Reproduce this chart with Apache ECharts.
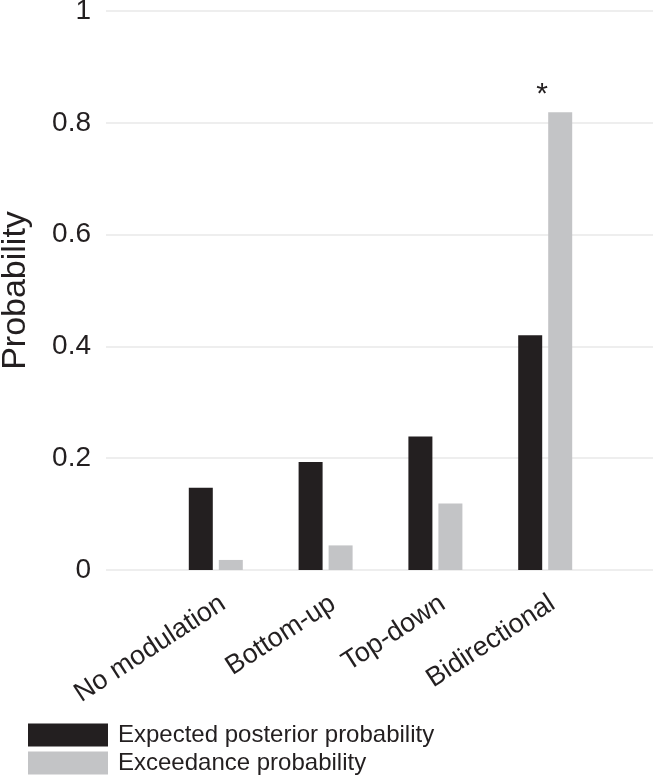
<!DOCTYPE html>
<html>
<head>
<meta charset="utf-8">
<script src="https://cdn.jsdelivr.net/npm/echarts@6/dist/echarts.min.js"></script>
<style>
html,body{margin:0;padding:0;background:#fff;}
#chart{width:653px;height:776px;}
</style>
</head>
<body>
<div id="chart"></div>
<script>
const categories = ['No modulation', 'Bottom-up', 'Top-down', 'Bidirectional'];
const expectedPosterior = [0.147, 0.193, 0.239, 0.420];
const exceedance = [0.018, 0.044, 0.119, 0.819];
const significant = [false, false, false, true];
const yTicks = [0, 0.2, 0.4, 0.6, 0.8, 1];
const seriesNames = ['Expected posterior probability', 'Exceedance probability'];

const FONT = '"Liberation Sans", Arial, Helvetica, sans-serif';
const INK = '#231f20';
const BLACK = '#231f20';
const GRAY = '#c3c4c6';

// pad the category axis with an empty slot on each side
const axisData = [''].concat(categories, ['']);
const pad = arr => [null].concat(arr, [null]);

const chart = echarts.init(document.getElementById('chart'), null, {renderer: 'canvas'});
chart.setOption({
  animation: false,
  backgroundColor: '#ffffff',
  textStyle: {fontFamily: FONT},
  grid: {left: 106, right: -2, top: 11, bottom: 206, containLabel: false, outerBoundsMode: 'none'},
  legend: {
    orient: 'vertical',
    left: 28,
    top: 723,
    padding: 0,
    itemWidth: 80,
    itemHeight: 23,
    itemGap: 4,
    icon: 'rect',
    data: seriesNames,
    textStyle: {fontFamily: FONT, fontSize: 24, color: INK, padding: [2, 0, 0, 5]}
  },
  xAxis: {
    type: 'category',
    boundaryGap: false,
    data: axisData,
    axisLine: {show: false},
    axisTick: {show: false},
    splitLine: {show: false},
    axisLabel: {
      interval: 0,
      rotate: 33,
      margin: 20,
      verticalAlign: 'top',
      fontFamily: FONT,
      fontSize: 27,
      color: INK
    }
  },
  yAxis: {
    type: 'value',
    min: yTicks[0],
    max: yTicks[yTicks.length - 1],
    interval: yTicks[1] - yTicks[0],
    name: 'Probability',
    nameLocation: 'middle',
    nameRotate: 90,
    nameGap: 73,
    nameTextStyle: {fontFamily: FONT, fontSize: 34, color: INK},
    axisLine: {show: false},
    axisTick: {show: false},
    axisLabel: {margin: 15, fontFamily: FONT, fontSize: 28, color: INK,
      formatter: v => String(Math.round(v * 10) / 10)},
    splitLine: {show: true, lineStyle: {color: '#eeeeee', width: 2}}
  },
  series: [
    {
      name: seriesNames[0],
      type: 'bar',
      data: pad(expectedPosterior),
      barWidth: 24,
      barGap: '25%',
      itemStyle: {color: BLACK}
    },
    {
      name: seriesNames[1],
      type: 'bar',
      data: pad(exceedance.map((v, i) => ({
        value: v,
        label: {show: significant[i]}
      }))),
      barWidth: 24,
      barGap: '25%',
      itemStyle: {color: GRAY},
      label: {
        show: false,
        position: 'top',
        distance: 2,
        offset: [-18, 0],
        formatter: '*',
        fontFamily: FONT,
        fontSize: 30,
        color: INK
      }
    }
  ]
});
</script>
</body>
</html>
